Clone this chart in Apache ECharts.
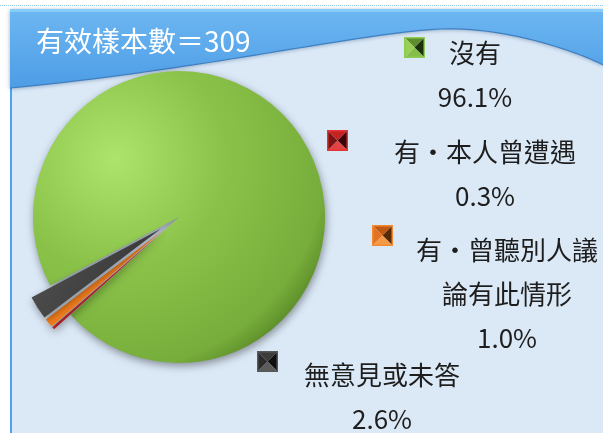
<!DOCTYPE html>
<html>
<head>
<meta charset="utf-8">
<script src="https://cdn.jsdelivr.net/npm/echarts@6/dist/echarts.min.js"></script>
<style>
  html, body { margin: 0; padding: 0; background: #fff; }
  #chart { width: 603px; height: 433px; }
</style>
</head>
<body>
<div id="chart"></div>
<script>
const sampleSize = 309
const categories = ['沒有', '有・本人曾遭遇', '有・曾聽別人議論有此情形', '無意見或未答']
const percents = [96.1, 0.3, 1.0, 2.6]

// layout: label block centres and legend key positions (px)
const labelCenters = [[475, 75], [485, 174], [507, 294], [382, 397]]
const keyPositions = [[404, 37], [327, 130], [372, 225], [257, 351]]

const FONT = '"Noto Sans CJK TC", "Noto Sans", sans-serif'
const PIE_CENTER = [179, 217]
const PIE_RADIUS = 146
const START_ANGLE = 208

const sliceColors = [
  {
    type: 'radial', x: 0.28, y: 0.3, r: 0.85,
    colorStops: [
      { offset: 0, color: '#ade46c' },
      { offset: 0.45, color: '#8ac249' },
      { offset: 0.85, color: '#77ad3b' },
      { offset: 1, color: '#4e7c1f' }
    ]
  },
  '#d4262a',
  '#f27d1c',
  { type: 'linear', x: 0, y: 0, x2: 1, y2: 1,
    colorStops: [{ offset: 0, color: '#555' }, { offset: 1, color: '#2e2e2e' }] }
]

// bevelled "pyramid" legend keys
const keyFacets = [
  { left: '#98cf55', top: '#5f8f2c', right: '#1d300e', bottom: '#84bd47', edge: '#8fca52' },
  { left: '#7c1212', top: '#c52222', right: '#3a0606', bottom: '#e34242', edge: '#e23434' },
  { left: '#e37222', top: '#c05a12', right: '#5a2a06', bottom: '#f59b48', edge: '#f18a30' },
  { left: '#2c2c2c', top: '#3c3c3c', right: '#101010', bottom: '#5c5c5c', edge: '#585858' }
]

const makeKey = (f) => {
  const s = 21
  const c = document.createElement('canvas')
  c.width = s
  c.height = s
  const ctx = c.getContext('2d')
  const tri = (pts, color) => {
    ctx.beginPath()
    ctx.moveTo(pts[0][0], pts[0][1])
    pts.slice(1).forEach(p => ctx.lineTo(p[0], p[1]))
    ctx.closePath()
    ctx.fillStyle = color
    ctx.fill()
  }
  const m = s / 2
  tri([[0, 0], [s, 0], [m, m]], f.top)
  tri([[s, 0], [s, s], [m, m]], f.right)
  tri([[0, s], [s, s], [m, m]], f.bottom)
  tri([[0, 0], [0, s], [m, m]], f.left)
  ctx.strokeStyle = f.edge
  ctx.lineWidth = 1.5
  ctx.strokeRect(0.75, 0.75, s - 1.5, s - 1.5)
  return 'image://' + c.toDataURL()
}

// header wave outline, sampled from two cubic curves
const cubic = (p0, p1, p2, p3, n) => {
  const out = []
  for (let k = 0; k <= n; k++) {
    const t = k / n, u = 1 - t
    out.push([
      u * u * u * p0[0] + 3 * u * u * t * p1[0] + 3 * u * t * t * p2[0] + t * t * t * p3[0],
      u * u * u * p0[1] + 3 * u * u * t * p1[1] + 3 * u * t * t * p2[1] + t * t * t * p3[1]
    ])
  }
  return out
}
const waveEdge = cubic([603, 65], [575, 50], [500, 26], [440, 29], 24)
  .concat(cubic([440, 29], [360, 33], [200, 70], [10, 88], 40).slice(1))

const wrapName = (name) => name.length > 7 ? name.slice(0, 7) + '\n' + name.slice(7) : name

const chart = echarts.init(document.getElementById('chart'))

const option = {
  animation: false,
  title: {
    text: '有效樣本數＝' + sampleSize,
    left: 36,
    top: 27,
    padding: 0,
    textStyle: { color: '#fff', fontSize: 28, fontWeight: 'normal', fontFamily: FONT }
  },
  graphic: [
    {
      type: 'line', silent: true, z: -10,
      shape: { x1: 0, y1: 5.5, x2: 603, y2: 5.5 },
      style: { stroke: '#93c6e4', lineWidth: 1, lineDash: [1, 1] }
    },
    {
      type: 'rect', silent: true, z: -10,
      shape: { x: 10, y: 9, width: 600, height: 430 },
      style: { fill: '#dbe9f7' }
    },
    {
      type: 'line', silent: true, z: -9,
      shape: { x1: 11, y1: 9, x2: 11, y2: 433 },
      style: { stroke: '#4ca4ee', lineWidth: 2 }
    },
    {
      type: 'polygon', silent: true, z: -8,
      shape: { points: [[10, 9], [603, 9]].concat(waveEdge) },
      style: {
        fill: { type: 'linear', x: 0, y: 0, x2: 0, y2: 1,
          colorStops: [{ offset: 0, color: '#6db6f1' }, { offset: 1, color: '#4d9de6' }] },
        shadowBlur: 4,
        shadowColor: 'rgba(30,70,120,0.45)',
        shadowOffsetY: 1
      }
    },
    {
      type: 'polyline', silent: true, z: -7,
      shape: { points: waveEdge },
      style: { stroke: '#3f80c2', lineWidth: 1.2 }
    },
    {
      type: 'line', silent: true, z: -7,
      shape: { x1: 10, y1: 10.5, x2: 603, y2: 10.5 },
      style: { stroke: '#86cdf9', lineWidth: 3 }
    }
  ],
  legend: categories.map((name, i) => ({
    data: [name],
    left: keyPositions[i][0],
    top: keyPositions[i][1],
    padding: 0,
    itemWidth: 21,
    itemHeight: 21,
    icon: makeKey(keyFacets[i]),
    selectedMode: false,
    formatter: () => '',
    textStyle: { fontSize: 1 }
  })),
  series: [
    {
      // the drawn pie, small slices pulled out
      type: 'pie',
      center: PIE_CENTER,
      radius: PIE_RADIUS,
      startAngle: START_ANGLE,
      clockwise: true,
      selectedMode: 'multiple',
      selectedOffset: 22,
      emphasis: { disabled: true },
      itemStyle: {
        shadowBlur: 8,
        shadowColor: 'rgba(0,0,0,0.4)',
        shadowOffsetX: 1,
        shadowOffsetY: 3
      },
      label: { show: false },
      labelLine: { show: false },
      data: categories.map((name, i) => ({
        name,
        value: percents[i],
        selected: i > 0,
        itemStyle: { color: sliceColors[i] }
      }))
    },
    {
      // same data, invisible slices, carries the data labels
      type: 'pie',
      center: PIE_CENTER,
      radius: PIE_RADIUS,
      startAngle: START_ANGLE,
      clockwise: true,
      silent: true,
      z: 1,
      avoidLabelOverlap: false,
      itemStyle: { color: 'transparent' },
      label: {
        show: true,
        position: 'outside',
        formatter: (p) => wrapName(p.name) + '\n' + p.value.toFixed(1) + '%',
        fontSize: 26,
        lineHeight: 44,
        color: '#1e1e1e',
        fontFamily: FONT
      },
      labelLine: { show: false },
      labelLayout: (params) => {
        const c = labelCenters[params.dataIndex]
        return { x: c[0], y: c[1], align: 'center', verticalAlign: 'middle' }
      },
      data: categories.map((name, i) => ({ name, value: percents[i] }))
    }
  ]
}

chart.setOption(option)
</script>
</body>
</html>
